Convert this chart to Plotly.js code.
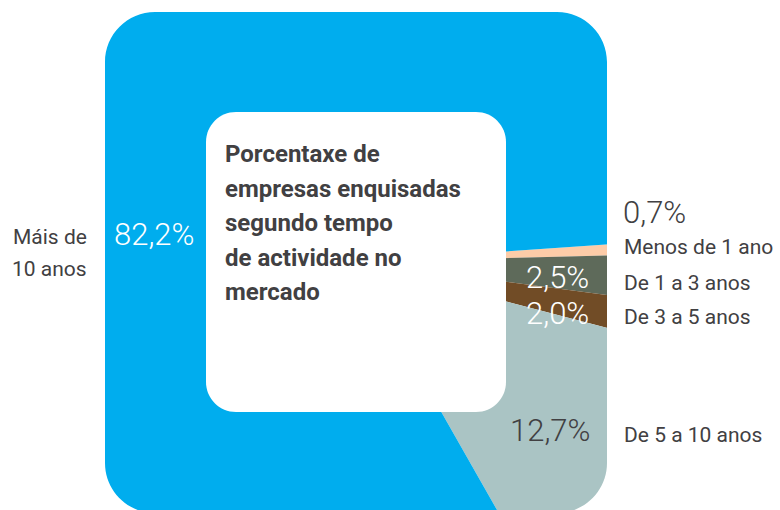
<!DOCTYPE html>
<html>
<head>
<meta charset="utf-8">
<script src="https://cdn.plot.ly/plotly-3.0.1.min.js"></script>
<style>
html,body{margin:0;padding:0;overflow:hidden;background:#fff;width:780px;height:510px;}
#chart{position:absolute;left:0;top:-120px;width:780px;height:800px;}
</style>
</head>
<body>
<div id="chart"></div>
<script>
// ---- data ----
const labels = ["Menos de 1 ano", "De 1 a 3 anos", "De 3 a 5 anos", "De 5 a 10 anos", "Máis de<br>10 anos"];
const values = [0.7, 2.5, 2.0, 12.7, 82.2];
const colors = ["#FDCCA8", "#5E6A5A", "#714C26", "#AAC4C4", "#00ADEE"];
const titleLines = ["Porcentaxe de", "empresas enquisadas", "segundo tempo", "de actividade no", "mercado"];

// ---- geometry helpers (viewport pixels -> paper) ----
const W = 780, H = 800, OY = -120;
const px = x => x / W;
const py = y => 1 - (y - OY) / H;
const P = (x, y) => px(x).toFixed(5) + ',' + py(y).toFixed(5);
function rrPath(x0, y0, x1, y1, r) {
  const c = 0.5523 * r;
  return 'M' + P(x0 + r, y0) + ' L' + P(x1 - r, y0) +
    ' C' + P(x1 - r + c, y0) + ' ' + P(x1, y0 + r - c) + ' ' + P(x1, y0 + r) +
    ' L' + P(x1, y1 - r) +
    ' C' + P(x1, y1 - r + c) + ' ' + P(x1 - r + c, y1) + ' ' + P(x1 - r, y1) +
    ' L' + P(x0 + r, y1) +
    ' C' + P(x0 + r - c, y1) + ' ' + P(x0, y1 - r + c) + ' ' + P(x0, y1 - r) +
    ' L' + P(x0, y0 + r) +
    ' C' + P(x0, y0 + r - c) + ' ' + P(x0 + r - c, y0) + ' ' + P(x0 + r, y0) + ' Z';
}

const CX = 356, CY = 262, R = 345;
const fmt = v => v.toFixed(1).replace('.', ',') + '%';
const TXT = '#414042';
const FONT = 'Roboto, "Open Sans", sans-serif';

const trace = {
  type: 'pie',
  labels: labels,
  values: values,
  sort: false,
  direction: 'clockwise',
  rotation: 86,
  marker: {colors: colors, line: {width: 0}},
  textinfo: 'none',
  hoverinfo: 'skip',
  showlegend: false,
  domain: {x: [(CX - R) / W, (CX + R) / W], y: [py(CY + R), py(CY - R)]}
};

// placement of the texts, in viewport pixels
const place = [
  {vx: 654, vy: 212, vc: TXT, lx: 622, ly: [247], la: 'left'},
  {vx: 557, vy: 277, vc: '#fff', lx: 622, ly: [283], la: 'left'},
  {vx: 557, vy: 313.5, vc: '#fff', lx: 622, ly: [317], la: 'left'},
  {vx: 549.5, vy: 430, vc: TXT, lx: 622, ly: [434.5], la: 'left'},
  {vx: 154, vy: 234.5, vc: '#fff', lx: 89, ly: [237, 268.5], la: 'right'}
];

const annotations = [];
values.forEach((v, i) => {
  const p = place[i];
  annotations.push({xref: 'paper', yref: 'paper', x: px(p.vx), y: py(p.vy), xanchor: 'center', yanchor: 'middle',
    text: fmt(v), showarrow: false, font: {family: FONT, size: 31, color: p.vc, weight: 300}});
  labels[i].split('<br>').forEach((line, j) => {
    annotations.push({xref: 'paper', yref: 'paper', x: px(p.lx), y: py(p.ly[j]), xanchor: p.la, yanchor: 'middle',
      text: line, showarrow: false, font: {family: FONT, size: 21, color: TXT}});
  });
});
titleLines.forEach((t, j) => {
  annotations.push({xref: 'paper', yref: 'paper', x: px(223), y: py(154 + j * 34.6), xanchor: 'left', yanchor: 'middle',
    text: '<b>' + t + '</b>', showarrow: false, font: {family: FONT, size: 24, color: TXT}});
});

const shapes = [
  {type: 'path', xref: 'paper', yref: 'paper', layer: 'above', fillrule: 'evenodd',
   path: 'M-0.1,-0.1 L1.1,-0.1 L1.1,1.1 L-0.1,1.1 Z ' + rrPath(105, 12, 607, 513, 50),
   fillcolor: '#ffffff', line: {width: 0}},
  {type: 'path', xref: 'paper', yref: 'paper', layer: 'above',
   path: rrPath(206, 112, 506, 412, 30), fillcolor: '#ffffff', line: {width: 0}}
];

const layout = {
  width: W, height: H,
  margin: {l: 0, r: 0, t: 0, b: 0},
  paper_bgcolor: '#fff', plot_bgcolor: '#fff',
  showlegend: false,
  shapes: shapes,
  annotations: annotations
};

Plotly.newPlot('chart', [trace], layout, {displayModeBar: false, staticPlot: true});
</script>
</body>
</html>
